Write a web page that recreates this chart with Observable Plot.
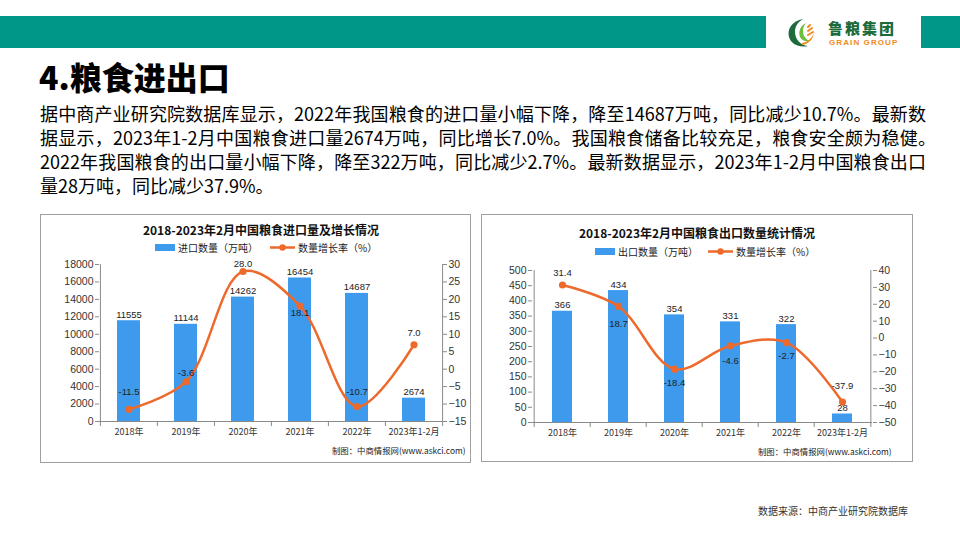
<!DOCTYPE html>
<html><head><meta charset="utf-8">
<script src="https://cdn.jsdelivr.net/npm/d3@7"></script>
<script src="https://cdn.jsdelivr.net/npm/@observablehq/plot@0.6"></script>
<style>
html,body{margin:0;padding:0;}
body{width:960px;height:540px;position:relative;background:#fff;overflow:hidden;font-family:"Noto Sans CJK SC","Noto Sans",sans-serif;color:#000;}
.abs{position:absolute;}
.green{background:#009688;}
.para{left:40px;width:886px;font-size:18px;line-height:24px;text-align:justify;text-align-last:justify;height:24px;overflow:visible;}
.panel{border:1px solid #a0a0a0;box-sizing:border-box;}
.ctitle{font-size:12px;font-weight:700;white-space:nowrap;transform:translateX(-50%);color:#111;line-height:14px;}
.leg{font-size:10px;white-space:nowrap;color:#222;line-height:12px;}
.cap{font-size:8.4px;white-space:nowrap;color:#222;line-height:10px;}
</style></head>
<body>
<div class="abs green" style="left:0;top:16px;width:766px;height:32px"></div>
<div class="abs green" style="left:921px;top:16px;width:39px;height:32px"></div>
<svg class="abs" style="left:786px;top:17px" width="40" height="31" viewBox="0 0 40 31">
  <path d="M17 2 C6 4 1 12 3 20 C5 27 13 31 22 29 C14 28 9 22 9 15 C9 9 12 5 17 2Z" fill="#1b6b3b"/>
  <path d="M20 6 C14 9 12 15 14 20 C16 24 20 25 24 24 C19 22 17 18 17 14 C17 11 18 8 20 6Z" fill="#6cbf3a"/>
  <path d="M22 10 L24 8 M22 14 L26 11 M22 18 L27 15" stroke="#f08a1c" stroke-width="2" stroke-linecap="round"/>
  <path d="M16 26 C22 25 26 21 28 16 C27 22 23 27 16 28Z" fill="#f08a1c"/>
</svg>
<div class="abs" style="left:828px;top:20px;font-size:15px;font-weight:900;color:#1b6b3b;letter-spacing:2px;line-height:15px">鲁粮集团</div>
<div class="abs" style="left:829px;top:39px;font-size:8px;font-weight:700;color:#f08a1c;line-height:8px;letter-spacing:1.1px;font-family:'Liberation Sans',sans-serif">GRAIN GROUP</div>

<div class="abs" style="left:39px;top:57px;font-size:32px;font-weight:900;line-height:38px">4.粮食进出口</div>

<div class="abs para" style="top:101px">据中商产业研究院数据库显示，2022年我国粮食的进口量小幅下降，降至14687万吨，同比减少10.7%。最新数</div>
<div class="abs para" style="top:125px;width:896px">据显示，2023年1-2月中国粮食进口量2674万吨，同比增长7.0%。我国粮食储备比较充足，粮食安全颇为稳健。</div>
<div class="abs para" style="top:149px">2022年我国粮食的出口量小幅下降，降至322万吨，同比减少2.7%。最新数据显示，2023年1-2月中国粮食出口</div>
<div class="abs para" style="top:173px;text-align-last:left;text-align:left">量28万吨，同比减少37.9%。</div>

<div class="abs panel" style="left:40px;top:214px;width:431px;height:249px"></div>
<div class="abs panel" style="left:481px;top:214px;width:432px;height:248px"></div>

<div class="abs ctitle" style="left:261px;top:223px">2018-2023年2月中国粮食进口量及增长情况</div>
<div class="abs ctitle" style="left:697px;top:226px">2018-2023年2月中国粮食出口数量统计情况</div>

<div id="chartL" class="abs" style="left:41px;top:254px;width:429px;height:208px"></div>
<div id="chartR" class="abs" style="left:482px;top:254px;width:431px;height:207px"></div>

<div class="abs cap" style="left:332px;top:445px">制图：中商情报网(www.askci.com)</div>
<div class="abs cap" style="left:758px;top:446px">制图：中商情报网(www.askci.com)</div>

<div class="abs" style="left:758px;top:505px;font-size:10px;color:#333;white-space:nowrap;line-height:12px">数据来源：中商产业研究院数据库</div>

<script>
// ---- data ----
const categories = ["2018年", "2019年", "2020年", "2021年", "2022年", "2023年1-2月"];
const importVolume = [11555, 11144, 14262, 16454, 14687, 2674];
const importGrowth = [-11.5, -3.6, 28.0, 18.1, -10.7, 7.0];
const exportVolume = [366, 434, 354, 331, 322, 28];
const exportGrowth = [31.4, 18.7, -18.4, -4.6, -2.7, -37.9];
const importVolumeTicks = [0, 2000, 4000, 6000, 8000, 10000, 12000, 14000, 16000, 18000];
const importGrowthTicks = [-15, -10, -5, 0, 5, 10, 15, 20, 25, 30];
const exportVolumeTicks = [0, 50, 100, 150, 200, 250, 300, 350, 400, 450, 500];
const exportGrowthTicks = [-50, -40, -30, -20, -10, 0, 10, 20, 30, 40];
const volumeLegend = ["进口数量（万吨）", "出口数量（万吨）"];
const growthLegend = "数量增长率（%）";

// ---- style ----
const BLUE = "#3d9aec", ORANGE = "#ee6a2c", AXIS = "#8a8a8a", TXT = "#333";
const SANS = "'Liberation Sans','Noto Sans CJK SC',sans-serif";
const CJK = "'Noto Sans CJK SC',sans-serif";
const minus = d => d < 0 ? "\u2212" + Math.abs(d) : String(d);

function legend(top, x1, x2, label1) {
  const wrap = document.createElement("div");
  wrap.innerHTML =
    `<div class="abs" style="left:${x1}px;top:${top + 1}px;width:20px;height:7px;background:${BLUE}"></div>` +
    `<div class="abs leg" style="left:${x1 + 23}px;top:${top - 1}px">${label1}</div>` +
    `<svg class="abs" style="left:${x2}px;top:${top - 1}px" width="26" height="12"><line x1="0" y1="5.5" x2="25" y2="5.5" stroke="${ORANGE}" stroke-width="2.5"/><circle cx="12.5" cy="5.5" r="3.2" fill="${ORANGE}"/></svg>` +
    `<div class="abs leg" style="left:${x2 + 28}px;top:${top - 1}px">${growthLegend}</div>`;
  document.body.appendChild(wrap);
}
legend(243, 155, 270, volumeLegend[0]);
legend(247, 595, 708, volumeLegend[1]);

function drawChart(cfg) {
  const {host, width, height, mL, mR, mT, mB, vol, gr, volDomain, volTicks, grDomain, grTicks, barInset} = cfg;
  const cats = categories;
  const bw = (width - mL - mR) / cats.length;
  const plotH = height - mT - mB;
  const rows = cats.map((c, i) => ({cat: c, vol: vol[i], gr: gr[i]}));
  const base = {
    width, height, marginLeft: mL, marginRight: mR, marginTop: mT, marginBottom: mB,
    style: {background: "transparent", fontFamily: SANS, overflow: "visible", position: "absolute", left: "0px", top: "0px"}
  };
  const bars = Plot.plot({
    ...base,
    x: {type: "band", domain: cats, padding: 0, label: null},
    y: {domain: volDomain, label: null},
    marks: [
      Plot.barY(rows, {x: "cat", y: "vol", fill: BLUE, insetLeft: barInset, insetRight: barInset}),
      Plot.text(rows, {x: "cat", y: "vol", text: d => String(d.vol), dy: -6, fontSize: 9.5, fill: "#222", fontFamily: SANS}),
      Plot.ruleY([volDomain[0]], {stroke: AXIS}),
      Plot.ruleX(cats, {x: d => d, dx: -bw / 2, insetTop: plotH, insetBottom: -5, stroke: AXIS}),
      Plot.ruleX([cats[cats.length - 1]], {x: d => d, dx: bw / 2, insetTop: plotH, insetBottom: -5, stroke: AXIS}),
      Plot.ruleX([cats[0]], {x: d => d, dx: -bw / 2, y1: volDomain[0], y2: volDomain[1], stroke: AXIS}),
      Plot.axisY(volTicks, {anchor: "left", tickSize: 4, tickPadding: 2, stroke: AXIS, fill: TXT, fontSize: 10.5, tickFormat: d => String(d), label: null}),
      Plot.axisX({anchor: "bottom", tickSize: 0, tickPadding: 7, fill: TXT, fontSize: 9, fontFamily: CJK, label: null})
    ]
  });
  const line = Plot.plot({
    ...base,
    x: {type: "band", domain: cats, padding: 0, label: null, axis: null},
    y: {domain: grDomain, label: null},
    marks: [
      Plot.ruleX([cats[cats.length - 1]], {x: d => d, dx: bw / 2, y1: grDomain[0], y2: grDomain[1], stroke: AXIS}),
      Plot.axisY(grTicks, {anchor: "right", tickSize: 4, tickPadding: 2, stroke: AXIS, fill: TXT, fontSize: 10.5, tickFormat: minus, label: null}),
      Plot.line(rows, {x: "cat", y: "gr", stroke: ORANGE, strokeWidth: 2.5, curve: "catmull-rom"}),
      Plot.dot(rows, {x: "cat", y: "gr", r: 3.6, fill: ORANGE}),
      Plot.text(rows, {x: "cat", y: "gr", text: d => d.gr.toFixed(1), fontSize: 9.5, fill: "#222", fontFamily: SANS})
    ]
  });
  const el = document.getElementById(host);
  el.appendChild(bars);
  el.appendChild(line);
}

// per-label vertical offsets (dy is a constant option in Plot, so apply after render)
function fixLabelOffsets(host, offsets) {
  const svgs = document.getElementById(host).querySelectorAll("svg");
  const texts = svgs[1].querySelectorAll("g[aria-label='text'] text");
  texts.forEach((t, i) => t.setAttribute("dy", offsets[i]));
}

const importLabelDy = [-17, -9, -8, 7, -15, -12];
const exportLabelDy = [-12, 17, 14, 15, 13, -16];

drawChart({host: "chartL", width: 429, height: 208, mL: 58, mR: 28, mT: 10, mB: 41,
  vol: importVolume, gr: importGrowth, volDomain: [0, 18000], volTicks: importVolumeTicks,
  grDomain: [-15, 30], grTicks: importGrowthTicks, barInset: 17});
drawChart({host: "chartR", width: 431, height: 207, mL: 50, mR: 41, mT: 16, mB: 39,
  vol: exportVolume, gr: exportGrowth, volDomain: [0, 500], volTicks: exportVolumeTicks,
  grDomain: [-50, 40], grTicks: exportGrowthTicks, barInset: 18});
fixLabelOffsets("chartL", importLabelDy);
fixLabelOffsets("chartR", exportLabelDy);
</script>
</body></html>
